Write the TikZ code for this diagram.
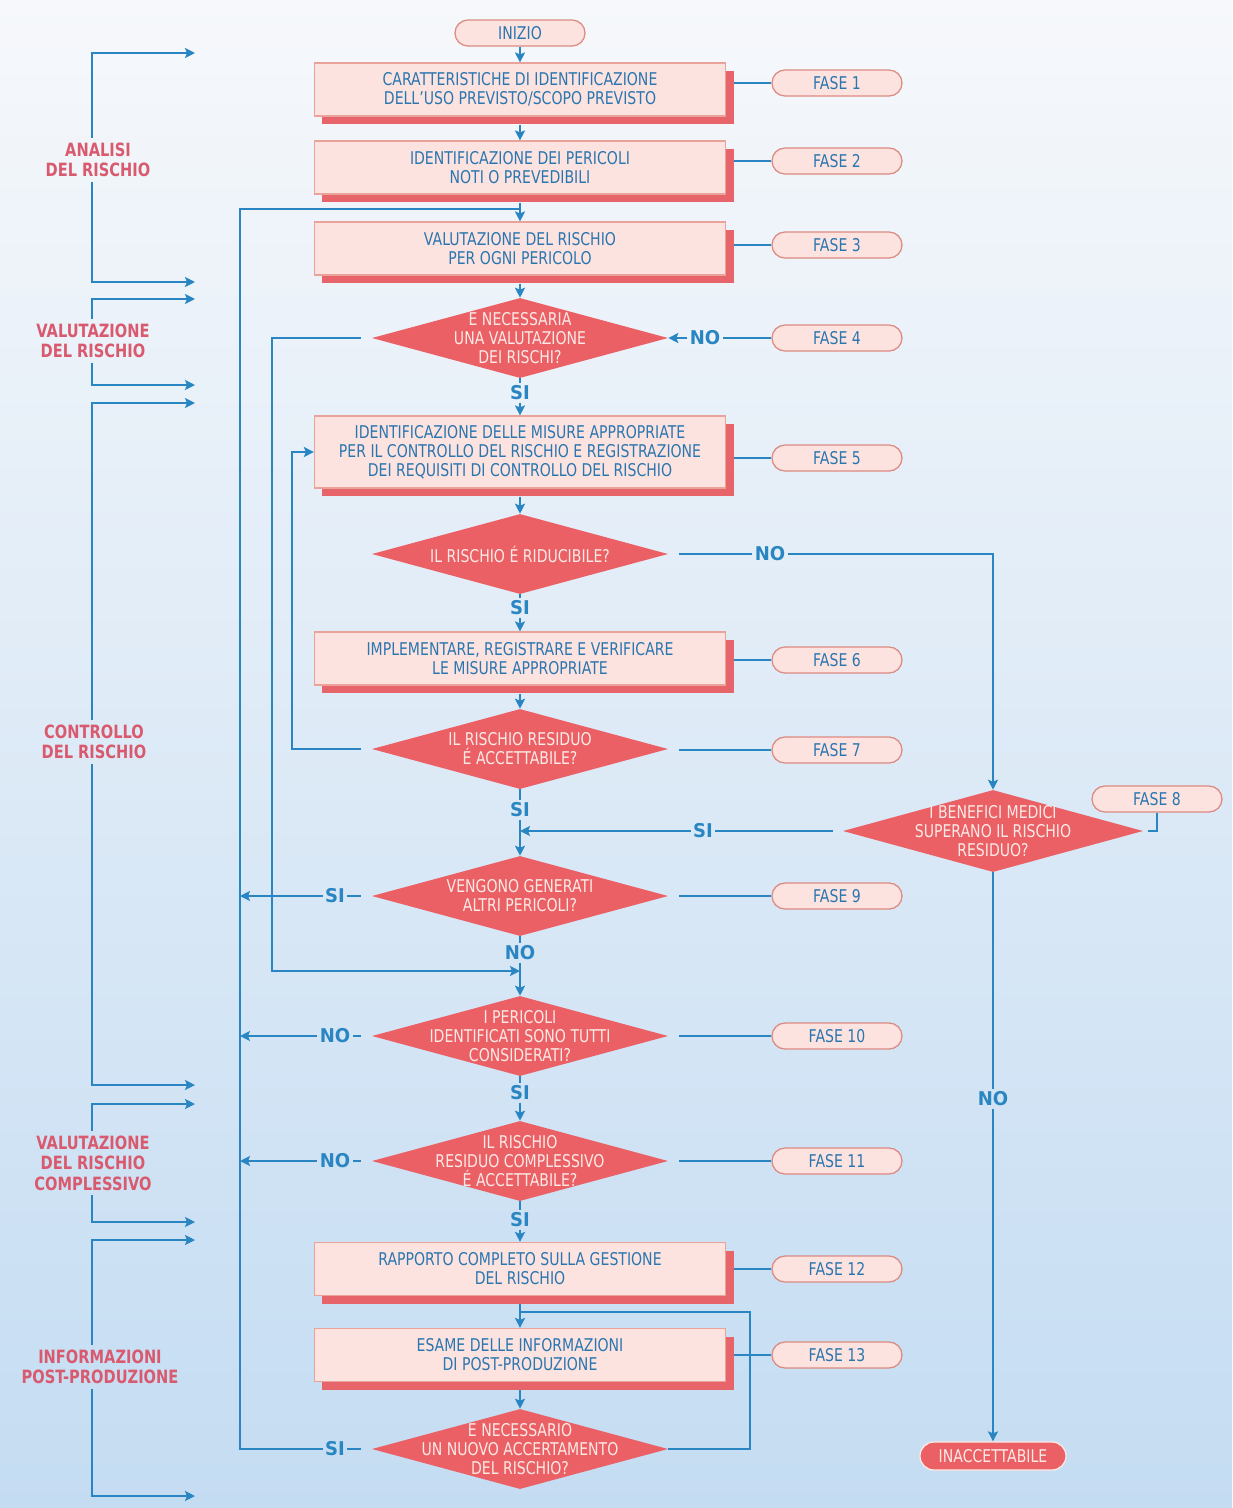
\documentclass[tikz,border=0pt]{standalone}
\usepackage{fontspec}
\setmainfont[FakeStretch=0.8]{DejaVu Sans}
\newfontfamily\lblfont[FakeStretch=0.8]{DejaVu Sans}
\newfontfamily\ynfont[FakeStretch=0.95]{DejaVu Sans}
\usetikzlibrary{positioning,shapes.geometric,shapes.misc,shadows,arrows.meta}

\definecolor{bgtop}{HTML}{F6F8FB}
\definecolor{bgmid}{HTML}{E2EDF8}
\definecolor{bgbot}{HTML}{C4DCF2}
\definecolor{lblue}{HTML}{2A86C2}
\definecolor{tblue}{HTML}{2A76B0}
\definecolor{boxfill}{HTML}{FDE3DF}
\definecolor{boxdraw}{HTML}{E9A39B}
\definecolor{shred}{HTML}{E6646A}
\definecolor{dred}{HTML}{EA6065}
\definecolor{dtext}{HTML}{FDE9E6}
\definecolor{pilldraw}{HTML}{DC8A82}
\definecolor{lred}{HTML}{D95A6E}

\begin{document}
\begin{tikzpicture}
[x=0.025cm, y=-0.025cm, font=\fontsize{12.5}{13.6}\selectfont,
 process/.style={draw=boxdraw, line width=0.8pt, fill=boxfill, text=tblue,
   align=center, minimum width=10.275cm, minimum height=1.325cm, inner sep=2pt,
   general shadow={fill=shred, shadow xshift=0.2cm, shadow yshift=-0.2cm}},
 decision/.style={shape=diamond, fill=dred, minimum width=7.4cm,
   minimum height=2cm, inner sep=0pt},
 dtxt/.style={text=dtext, align=center, inner sep=0pt},
 fase/.style={shape=rounded rectangle, draw=pilldraw, line width=0.9pt,
   fill=boxfill, text=tblue, minimum width=3.25cm, minimum height=0.65cm,
   inner sep=0pt},
 link/.style={draw=lblue, line width=1.6pt},
 flow/.style={link, -{Stealth[length=0.25cm, width=0.25cm, inset=0.05cm]}},
 yn/.style={text=lblue, font=\ynfont\bfseries\fontsize{13.5}{13.5}\selectfont,
   inner sep=1.5pt},
 phase/.style={text=lred, align=center, inner sep=3pt,
   font=\lblfont\bfseries\fontsize{13}{14.5}\selectfont}]

% background
\shade[top color=bgtop, middle color=bgmid, bottom color=bgbot]
  (0,0) rectangle (1232,1508);
\useasboundingbox (0,0) rectangle (1232,1508);

% main column
\node[fase, minimum width=3.25cm] (ini) at (520,33) {INIZIO};
\node[process] (b1) at (520,89.5)
  {CARATTERISTICHE DI IDENTIFICAZIONE\\DELL'USO PREVISTO/SCOPO PREVISTO};
\node[process] (b2) at (520,167.5)
  {IDENTIFICAZIONE DEI PERICOLI\\NOTI O PREVEDIBILI};
\node[process] (b3) at (520,248.5)
  {VALUTAZIONE DEL RISCHIO\\PER OGNI PERICOLO};
\node[decision] (d4) at (520,338) {};
\node[dtxt] (d4t) at (d4) {E NECESSARIA\\UNA VALUTAZIONE\\DEI RISCHI?};
\node[process, minimum height=1.8cm] (b5) at (520,452)
  {IDENTIFICAZIONE DELLE MISURE APPROPRIATE\\PER IL CONTROLLO DEL RISCHIO E REGISTRAZIONE\\DEI REQUISITI DI CONTROLLO DEL RISCHIO};
\node[decision] (d5) at (520,554) {};
\node[dtxt] (d5t) at (d5) {IL RISCHIO É RIDUCIBILE?};
\node[process] (b6) at (520,658.5)
  {IMPLEMENTARE, REGISTRARE E VERIFICARE\\LE MISURE APPROPRIATE};
\node[decision] (d7) at (520,749) {};
\node[dtxt] (d7t) at (d7) {IL RISCHIO RESIDUO\\É ACCETTABILE?};
\node[decision] (d9) at (520,896) {};
\node[dtxt] (d9t) at (d9) {VENGONO GENERATI\\ALTRI PERICOLI?};
\node[decision] (d10) at (520,1036) {};
\node[dtxt] (d10t) at (d10) {I PERICOLI\\IDENTIFICATI SONO TUTTI\\CONSIDERATI?};
\node[decision] (d11) at (520,1161) {};
\node[dtxt] (d11t) at (d11) {IL RISCHIO\\RESIDUO COMPLESSIVO\\É ACCETTABILE?};
\node[process] (b12) at (520,1269)
  {RAPPORTO COMPLETO SULLA GESTIONE\\DEL RISCHIO};
\node[process] (b13) at (520,1355)
  {ESAME DELLE INFORMAZIONI\\DI POST-PRODUZIONE};
\node[decision] (d13) at (520,1449) {};
\node[dtxt] (d13t) at (d13) {E NECESSARIO\\UN NUOVO ACCERTAMENTO\\DEL RISCHIO?};

% right branch
\node[decision, minimum width=7.5cm, minimum height=2.05cm] (d8) at (993,831) {};
\node[dtxt] (d8t) at (d8) {I BENEFICI MEDICI\\SUPERANO IL RISCHIO\\RESIDUO?};
\node[fase] (f8) at (1157,799) {FASE 8};
\node[fase, fill=dred, draw=dtext, text=dtext, minimum width=3.65cm,
  minimum height=0.7cm] (inacc) at (993,1456) {INACCETTABILE};

% phases
\foreach \n/\y in {1/83,2/161,3/245,4/338,5/458,6/660,7/750,9/896,
                   10/1036,11/1161,12/1269,13/1355}
  \node[fase] (f\n) at (837,\y) {FASE \n};

% yes/no labels
\node[yn] (si4) at (520,393) {SI};
\node[yn] (si5) at (520,608) {SI};
\node[yn] (si7) at (520,810) {SI};
\node[yn] (no9) at (520,953) {NO};
\node[yn] (si10) at (520,1093) {SI};
\node[yn] (si11) at (520,1220) {SI};
\node[yn] (no4) at (705,338) {NO};
\node[yn] (no5) at (770,554) {NO};
\node[yn] (si8) at (703,831) {SI};
\node[yn] (no8) at (993,1099) {NO};
\node[yn] (si9) at (335,896) {SI};
\node[yn] (no10) at (335,1036) {NO};
\node[yn] (no11) at (335,1161) {NO};
\node[yn] (si13) at (335,1449) {SI};

% junctions
\coordinate (j3) at (520,209);
\coordinate (l1) at (240,209);
\coordinate (r9) at (240,896);
\coordinate (r10) at (240,1036);
\coordinate (r11) at (240,1161);
\coordinate (l2) at (272,971);
\coordinate (j10) at (520,971);
\coordinate (l3) at (292,749);
\coordinate (j9) at (520,831);
\coordinate (l4) at (750,1312);
\coordinate (j13) at (520,1312);

% main flow
\draw[flow] (ini.south) -- (b1.north);
\draw[flow, shorten <=0.2cm] (b1.south) -- (b2.north);
\draw[flow, shorten <=0.2cm] (b2.south) -- (b3.north);
\draw[flow, shorten <=0.2cm] (b3.south) -- (d4.north);
\draw[link] (d4.south) -- (si4.north);
\draw[flow] (si4.south) -- (b5.north);
\draw[flow, shorten <=0.2cm] (b5.south) -- (d5.north);
\draw[link] (d5.south) -- (si5.north);
\draw[flow] (si5.south) -- (b6.north);
\draw[flow, shorten <=0.2cm] (b6.south) -- (d7.north);
\draw[link] (d7.south) -- (si7.north);
\draw[flow] (si7.south) -- (d9.north);
\draw[link] (d9.south) -- (no9.north);
\draw[flow] (no9.south) -- (d10.north);
\draw[link] (d10.south) -- (si10.north);
\draw[flow] (si10.south) -- (d11.north);
\draw[link] (d11.south) -- (si11.north);
\draw[flow] (si11.south) -- (b12.north);
\draw[flow, shorten <=0.2cm] (b12.south) -- (b13.north);
\draw[flow, shorten <=0.2cm] (b13.south) -- (d13.north);

% loops
\draw[link, shorten <=0.27cm] (d13.west) -- (si13.east);
\draw[link] (si13.west) -| (l1) -- (j3);
\draw[link, shorten <=0.27cm] (d9.west) -- (si9.east);
\draw[flow] (si9.west) -- (r9);
\draw[link, shorten <=0.27cm] (d10.west) -- (no10.east);
\draw[flow] (no10.west) -- (r10);
\draw[link, shorten <=0.27cm] (d11.west) -- (no11.east);
\draw[flow] (no11.west) -- (r11);
\draw[flow, shorten <=0.27cm] (d4.west) -| (l2) -- (j10);
\draw[flow, shorten <=0.27cm] (d7.west) -- (l3) |- (b5.west);
\draw[link] (d13.east) -| (l4) -- (j13);

% right branch
\draw[link] (f4.west) -- (no4.east);
\draw[flow] (no4.west) -- (d4.east);
\draw[link, shorten <=0.27cm] (d5.east) -- (no5.west);
\draw[flow] (no5.east) -| (d8.north);
\draw[link, shorten <=0.25cm] (d8.west) -- (si8.east);
\draw[flow] (si8.west) -- (j9);
\draw[link] (d8.south) -- (no8.north);
\draw[flow] (no8.south) -- (inacc.north);
\draw[link, shorten >=0.12cm] (f8.south) |- (d8.east);

% phase connectors
\foreach \b/\f in {b1/f1,b2/f2,b3/f3,b5/f5,b6/f6,b12/f12,b13/f13}
  \draw[link, line width=1.2pt, shorten >=0.2cm] (\f.west) -- (\f.west -| \b.east);
\foreach \d/\f in {d7/f7,d9/f9,d10/f10,d11/f11}
  \draw[link, line width=1.2pt, shorten >=0.27cm] (\f.west) -- (\f.west -| \d.east);

% stages on the left
\coordinate (rail) at (92,0);
\node[phase] (an) at (98,160) {ANALISI\\DEL RISCHIO};
\coordinate (an1) at (195,53);
\coordinate (an2) at (195,282);
\node[phase] (vr) at (93,341) {VALUTAZIONE\\DEL RISCHIO};
\coordinate (vr1) at (195,299);
\coordinate (vr2) at (195,385);
\node[phase] (cr) at (94,742) {CONTROLLO\\DEL RISCHIO};
\coordinate (cr1) at (195,403);
\coordinate (cr2) at (195,1085);
\node[phase] (vc) at (93,1163) {VALUTAZIONE\\DEL RISCHIO\\COMPLESSIVO};
\coordinate (vc1) at (195,1104);
\coordinate (vc2) at (195,1222);
\node[phase] (ip) at (100,1367) {INFORMAZIONI\\POST-PRODUZIONE};
\coordinate (ip1) at (195,1240);
\coordinate (ip2) at (195,1496);
\foreach \p in {an,vr,cr,vc,ip} {
  \draw[flow] (\p.north -| rail) |- (\p1);
  \draw[flow] (\p.south -| rail) |- (\p2);
}
\end{tikzpicture}
\end{document}
